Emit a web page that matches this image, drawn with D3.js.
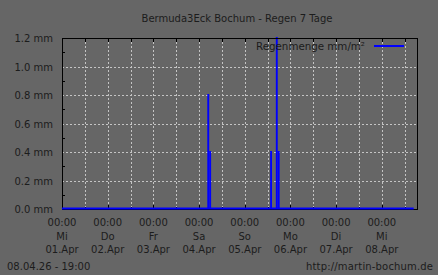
<!DOCTYPE html>
<html>
<head>
<meta charset="utf-8">
<script src="https://cdn.jsdelivr.net/npm/d3@7"></script>
<style>
  html, body { margin: 0; padding: 0; background: #666666; }
  text { font-family: "DejaVu Sans", sans-serif; font-size: 10px; fill: #1c1c1c; }
</style>
</head>
<body>
<div id="chart"></div>
<script>
// chart data
const title = "Bermuda3Eck Bochum - Regen 7 Tage"
const seriesName = "Regenmenge mm/m²"
const rangeStart = "2026-04-01 00:00"
const rangeEnd = "2026-04-08 18:30"
const dataEnd = "2026-04-08 16:45"
const rainTimes = ["2026-04-04 04:20", "2026-04-04 05:20", "2026-04-05 13:20", "2026-04-05 16:20", "2026-04-05 17:20"]
const rainValues = [0.8, 0.4, 0.4, 1.2, 0.4]
const yTicks = [0, 0.2, 0.4, 0.6, 0.8, 1.0, 1.2]
const dayNames = ["So", "Mo", "Di", "Mi", "Do", "Fr", "Sa"]
const footerLeft = "08.04.26 - 19:00"
const footerRight = "http://martin-bochum.de"

const width = 438
const height = 275
const margin = {top: 38, right: 21, bottom: 66, left: 62}
const gridColor = "#c4c4c4"
const blue = "#0000ff"

const parse = d3.timeParse("%Y-%m-%d %H:%M")
const t0 = parse(rangeStart)
const t1 = parse(rangeEnd)

const x = d3.scaleTime()
    .domain([t0, t1])
    .range([margin.left, width - margin.right])
const y = d3.scaleLinear()
    .domain([0, 1.2])
    .range([height - margin.bottom, margin.top])

const svg = d3.select("#chart").append("svg")
    .attr("width", width)
    .attr("height", height)

svg.append("rect")
    .attr("width", width)
    .attr("height", height)
    .attr("fill", "#666666")

const plotTop = margin.top
const plotBottom = height - margin.bottom
const plotLeft = margin.left
const plotRight = width - margin.right

// grid
const halfDays = d3.timeHour.every(12).range(t0, t1)
const days = d3.timeDay.range(t0, t1)

svg.append("g")
    .attr("stroke", gridColor)
    .attr("stroke-width", 1)
    .attr("stroke-dasharray", "2,2")
    .selectAll("line.h")
    .data(yTicks.filter(v => v > 0 && v < 1.2))
    .join("line")
    .attr("x1", plotLeft)
    .attr("x2", plotRight)
    .attr("y1", d => Math.round(y(d)) + 0.5)
    .attr("y2", d => Math.round(y(d)) + 0.5)

svg.append("g")
    .attr("stroke", gridColor)
    .attr("stroke-width", 1)
    .attr("stroke-dasharray", "2,2")
    .selectAll("line.v")
    .data(halfDays.filter(d => +d > +t0))
    .join("line")
    .attr("x1", d => Math.round(x(d)) + 0.5)
    .attr("x2", d => Math.round(x(d)) + 0.5)
    .attr("y1", plotTop)
    .attr("y2", plotBottom)

// ticks
const ticks = svg.append("g").attr("stroke", "#000").attr("stroke-width", 1)
ticks.selectAll("line.top")
    .data(halfDays.filter(d => +d > +t0))
    .join("line")
    .attr("x1", d => Math.round(x(d)) + 0.5)
    .attr("x2", d => Math.round(x(d)) + 0.5)
    .attr("y1", plotTop)
    .attr("y2", plotTop + 4)
ticks.selectAll("line.bottom")
    .data(halfDays.filter(d => +d > +t0))
    .join("line")
    .attr("x1", d => Math.round(x(d)) + 0.5)
    .attr("x2", d => Math.round(x(d)) + 0.5)
    .attr("y1", plotBottom)
    .attr("y2", d => plotBottom - (d.getHours() === 0 ? 4 : 2))
ticks.selectAll("line.minor")
    .data(d3.range(0.1, 1.2, 0.2))
    .join("line")
    .attr("x1", plotLeft)
    .attr("x2", plotLeft + 3)
    .attr("y1", d => Math.round(y(d)) + 0.5)
    .attr("y2", d => Math.round(y(d)) + 0.5)

// rain bars (hourly)
const hour = 3600 * 1000
svg.append("g")
    .attr("fill", blue)
    .selectAll("rect")
    .data(rainTimes.map((t, i) => ({t: parse(t), v: rainValues[i]})))
    .join("rect")
    .attr("x", d => x(d.t))
    .attr("width", d => x(new Date(+d.t + hour)) - x(d.t))
    .attr("y", d => y(d.v) - 1)
    .attr("height", d => y(0) - y(d.v) + 1)

// frame
svg.append("rect")
    .attr("x", plotLeft + 0.5)
    .attr("y", plotTop + 0.5)
    .attr("width", plotRight - plotLeft)
    .attr("height", plotBottom - plotTop)
    .attr("fill", "none")
    .attr("stroke", "#000")

// zero line of the series
svg.append("line")
    .attr("x1", plotLeft)
    .attr("x2", x(parse(dataEnd)))
    .attr("y1", plotBottom - 0.5)
    .attr("y2", plotBottom - 0.5)
    .attr("stroke", blue)
    .attr("stroke-width", 2)

// y labels
svg.append("g")
    .selectAll("text")
    .data(yTicks)
    .join("text")
    .attr("x", 53)
    .attr("y", d => y(d) + 4)
    .attr("text-anchor", "end")
    .text(d => d3.format(".1f")(d) + " mm")

// x labels
const months = ["Jan", "Feb", "Mar", "Apr", "May", "Jun", "Jul", "Aug", "Sep", "Oct", "Nov", "Dec"]
const xl = svg.append("g")
    .selectAll("g")
    .data(days)
    .join("g")
    .attr("transform", d => `translate(${x(d)},0)`)
xl.append("text").attr("y", 226).attr("text-anchor", "middle").text(d => d3.timeFormat("%H:%M")(d))
xl.append("text").attr("y", 239.5).attr("text-anchor", "middle").text(d => dayNames[d.getDay()])
xl.append("text").attr("y", 252.8).attr("text-anchor", "middle")
    .text(d => d3.timeFormat("%d")(d) + "." + months[d.getMonth()])

// title
svg.append("text")
    .attr("x", 237)
    .attr("y", 22)
    .attr("text-anchor", "middle")
    .text(title)

// legend
svg.append("text")
    .attr("x", 256)
    .attr("y", 50)
    .attr("textLength", 109)
    .attr("lengthAdjust", "spacingAndGlyphs")
    .text(seriesName)
svg.append("line")
    .attr("x1", 374)
    .attr("x2", 404)
    .attr("y1", 46)
    .attr("y2", 46)
    .attr("stroke", blue)
    .attr("stroke-width", 2)

// footer
svg.append("text")
    .attr("x", 7)
    .attr("y", 270)
    .text(footerLeft)
svg.append("text")
    .attr("x", 306)
    .attr("y", 270)
    .attr("textLength", 127)
    .attr("lengthAdjust", "spacing")
    .text(footerRight)
</script>
</body>
</html>
